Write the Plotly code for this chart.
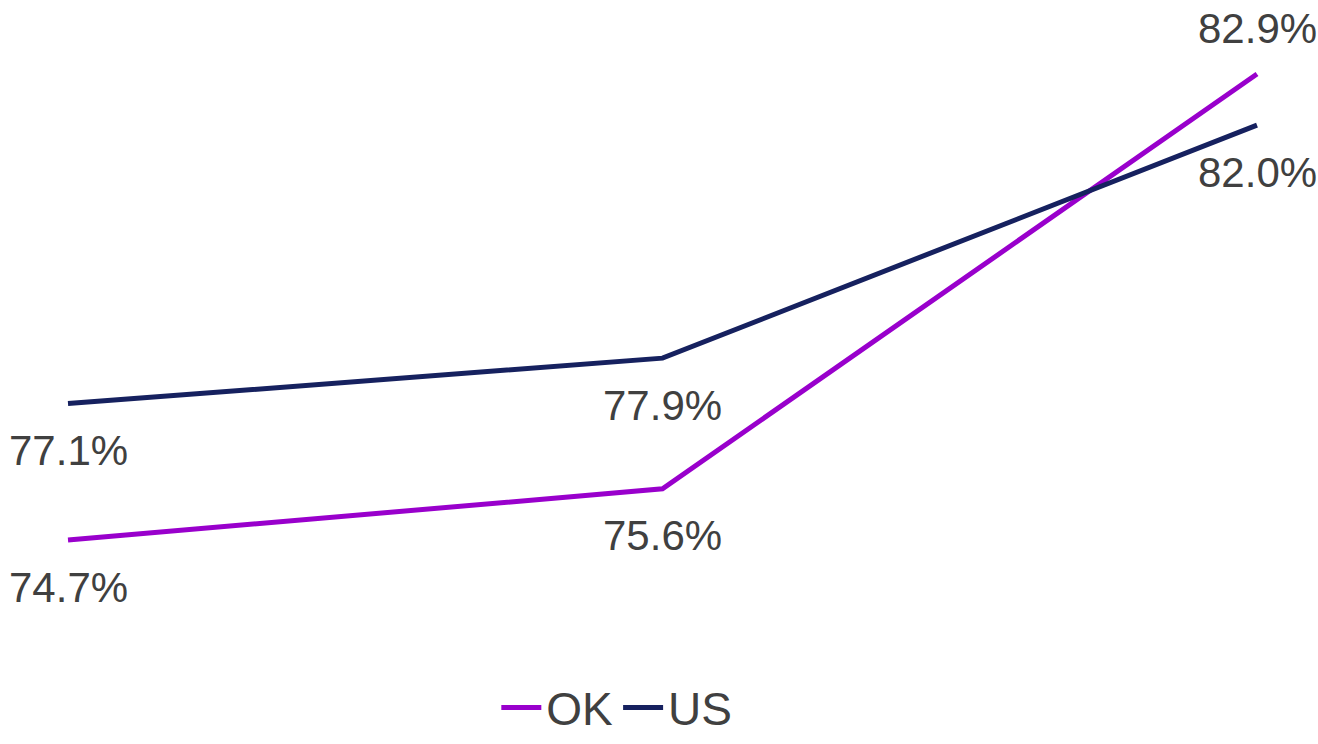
import plotly.graph_objects as go

categories = ["Period 1", "Period 2", "Period 3"]
ok_values = [74.7, 75.6, 82.9]
us_values = [77.1, 77.9, 82.0]
ok_label_pos = ["below", "below", "above"]
us_label_pos = ["below", "below", "below"]

FONT = "Liberation Sans Narrow, Arial Narrow, Liberation Sans, Arial, sans-serif"
OK_COLOR = "#9900CC"
US_COLOR = "#16215F"
TEXT_COLOR = "#404040"

fig = go.Figure()
fig.add_trace(go.Scatter(x=categories, y=ok_values, mode="lines", name="OK",
                         line=dict(color=OK_COLOR, width=5)))
fig.add_trace(go.Scatter(x=categories, y=us_values, mode="lines", name="US",
                         line=dict(color=US_COLOR, width=5)))

for vals, pos in ((ok_values, ok_label_pos), (us_values, us_label_pos)):
    for c, v, p in zip(categories, vals, pos):
        fig.add_annotation(x=c, y=v, text=f"{v:.1f}%", showarrow=False,
                           xanchor="center", yanchor="middle",
                           yshift=(-47 if p == "below" else 45),
                           font=dict(family=FONT, size=42, color=TEXT_COLOR))

plot_bottom = 650
px_per_unit = 56.83
ymax = 74.7 + 540 / px_per_unit
ymin = 74.7 - (plot_bottom - 540) / px_per_unit
xstep = 594.5
xmin = -68 / xstep
xmax = 2 + (1318 - 1257) / xstep

fig.update_layout(
    width=1318, height=744,
    margin=dict(l=0, r=0, t=0, b=744 - plot_bottom),
    paper_bgcolor="white", plot_bgcolor="white",
    showlegend=True,
    legend=dict(orientation="h", x=0.468, xanchor="center",
                y=-(744 - plot_bottom) / plot_bottom, yanchor="bottom",
                font=dict(family=FONT, size=46, color=TEXT_COLOR),
                itemwidth=40, tracegroupgap=0),
    xaxis=dict(range=[xmin, xmax], showgrid=False, showticklabels=False,
               zeroline=False, showline=False, ticks=""),
    yaxis=dict(range=[ymin, ymax], showgrid=False, showticklabels=False,
               zeroline=False, showline=False, ticks=""),
)

fig.write_html("out.html")
